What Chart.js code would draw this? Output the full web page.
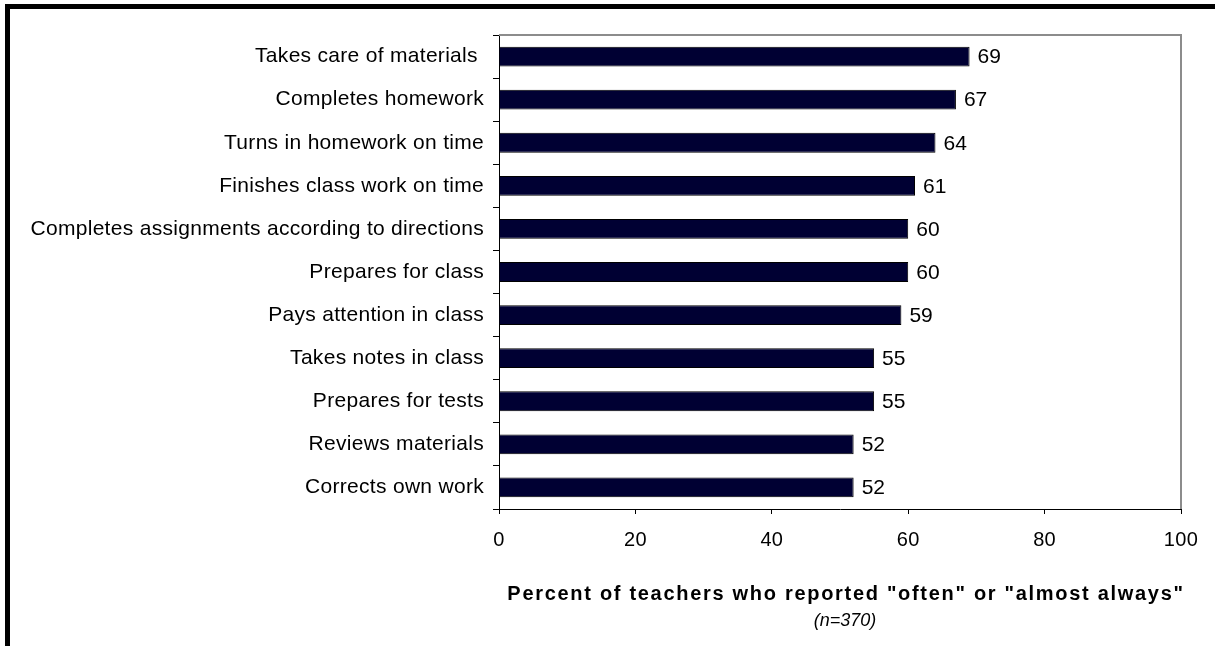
<!DOCTYPE html>
<html>
<head>
<meta charset="utf-8">
<title>Student work habits</title>
<script src="https://cdn.jsdelivr.net/npm/chart.js@4"></script>
<style>
  body { margin: 0; background: #fff; }
  #frame { position: absolute; left: 5px; top: 4px; right: 0; bottom: 0; border-left: 5px solid #000; border-top: 5px solid #000; }
  canvas { position: absolute; left: 0; top: 0; }
</style>
</head>
<body>
<div id="frame"></div>
<canvas id="habits" width="1215" height="646"></canvas>
<script>
"use strict";

// Data
const behaviours = [
  "Takes care of materials ",
  "Completes homework",
  "Turns in homework on time",
  "Finishes class work on time",
  "Completes assignments according to directions",
  "Prepares for class",
  "Pays attention in class",
  "Takes notes in class",
  "Prepares for tests",
  "Reviews materials",
  "Corrects own work"
];
const percents = [69, 67, 64, 61, 60, 60, 59, 55, 55, 52, 52];
const xTicks = [0, 20, 40, 60, 80, 100];
const axisTitle = 'Percent of teachers who reported "often" or "almost always"';
const sampleNote = "(n=370)";

const fontFamily = "'Liberation Sans', Arial, sans-serif";

// slightly loose text for the axis labels
let looseText = {
  id: "looseText",
  beforeDraw(chart) {
    chart.ctx.letterSpacing = "0.3px";
  }
};

// gray box on the top and right side of the plot
let plotBox = {
  id: "plotBox",
  beforeDatasetsDraw(chart) {
    let { ctx, chartArea: a } = chart;
    ctx.save();
    ctx.strokeStyle = "#8c8c8c";
    ctx.lineWidth = 2;
    ctx.beginPath();
    ctx.moveTo(a.left, a.top);
    ctx.lineTo(a.right, a.top);
    ctx.lineTo(a.right, a.bottom);
    ctx.stroke();
    ctx.restore();
  }
};

// value at the end of every bar
let barValues = {
  id: "barValues",
  afterDatasetsDraw(chart) {
    let ctx = chart.ctx;
    let meta = chart.getDatasetMeta(0);
    ctx.save();
    ctx.font = `21px ${fontFamily}`;
    ctx.letterSpacing = "0px";
    ctx.fillStyle = "#000";
    ctx.textAlign = "left";
    ctx.textBaseline = "middle";
    meta.data.forEach((bar, i) => {
      ctx.fillText(String(percents[i]), bar.x + 8, bar.y + 1);
    });
    ctx.restore();
  }
};

// x axis title with the sample size under it
let xTitle = {
  id: "xTitle",
  afterDraw(chart) {
    let { ctx, chartArea: a } = chart;
    let cx = (a.left + a.right) / 2 + 6;
    ctx.save();
    ctx.fillStyle = "#000";
    ctx.textAlign = "center";
    ctx.textBaseline = "middle";
    ctx.font = `bold 20px ${fontFamily}`;
    ctx.letterSpacing = "1.7px";
    ctx.fillText(axisTitle, cx, a.bottom + 85);
    ctx.letterSpacing = "0px";
    ctx.font = `italic 18px ${fontFamily}`;
    ctx.fillText(sampleNote, cx - 1, a.bottom + 112);
    ctx.restore();
  }
};

let chart = new Chart(document.querySelector("#habits"), {
  type: "bar",
  data: {
    labels: behaviours,
    datasets: [{
      data: percents,
      backgroundColor: "#000033",
      borderColor: "#000",
      borderWidth: 1,
      barPercentage: 0.46,
      categoryPercentage: 1
    }]
  },
  options: {
    indexAxis: "y",
    responsive: false,
    animation: false,
    devicePixelRatio: 1,
    layout: { padding: { top: 35, right: 34, bottom: 0, left: 0 } },
    plugins: {
      legend: { display: false },
      tooltip: { enabled: false }
    },
    scales: {
      x: {
        min: 0,
        max: 100,
        afterBuildTicks: scale => { scale.ticks = xTicks.map(v => ({ value: v })); },
        afterFit: scale => { scale.height = 137; },
        grid: { drawOnChartArea: false, tickLength: 5, color: "#000" },
        border: { color: "#000", width: 1 },
        ticks: { color: "#000", padding: 14, font: { family: fontFamily, size: 20 } }
      },
      y: {
        afterFit: scale => { scale.width = 499; },
        grid: { offset: true, drawOnChartArea: false, tickLength: 6, color: "#000" },
        border: { color: "#000", width: 1 },
        ticks: { color: "#000", padding: 9, autoSkip: false, font: { family: fontFamily, size: 21 } }
      }
    }
  },
  plugins: [looseText, plotBox, barValues, xTitle]
});
</script>
</body>
</html>
